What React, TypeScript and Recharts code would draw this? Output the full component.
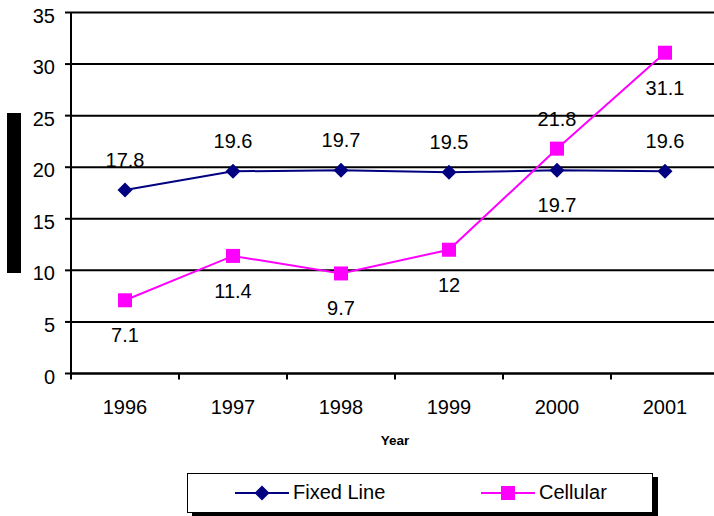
import { LineChart, Line, XAxis, YAxis, CartesianGrid, Legend, LabelList, Label } from "recharts";

const years = ["1996", "1997", "1998", "1999", "2000", "2001"];
const fixedLine = [17.8, 19.6, 19.7, 19.5, 19.7, 19.6];
const cellular = [7.1, 11.4, 9.7, 12, 21.8, 31.1];
const yTicks = [0, 5, 10, 15, 20, 25, 30, 35];

const data = years.map((year, i) => ({ year, fixed: fixedLine[i], cellular: cellular[i] }));

// which side of its marker each value label sits on
const fixedSides = ["top", "top", "top", "top", "bottom", "top"];
const cellularSides = ["bottom", "bottom", "bottom", "bottom", "top", "bottom"];

const seriesOrder = ["fixed", "cellular"];

const FONT = "Arial, 'Liberation Sans', sans-serif";
const FONT_SIZE = 20;
const NAVY = "#000080";
const MAGENTA = "#FF00FF";
const HALF_BAND = 54;

const Diamond = ({ cx, cy }: any) => (
  <polygon
    points={`${cx},${cy - 7.5} ${cx + 7.5},${cy} ${cx},${cy + 7.5} ${cx - 7.5},${cy}`}
    fill={NAVY}
  />
);

const Square = ({ cx, cy }: any) => <rect x={cx - 7} y={cy - 7} width={14} height={14} fill={MAGENTA} />;

const valueLabel = (sides: string[]) => (props: any) => {
  const { x, y, value, index } = props;
  const ty = sides[index] === "top" ? y - 23 : y + 42;
  return (
    <text x={x} y={ty} textAnchor="middle" fontSize={FONT_SIZE} fontFamily={FONT} fill="#000">
      {value}
    </text>
  );
};

const YearTick = ({ x, y, payload }: any) => (
  <g>
    <line x1={x - HALF_BAND} y1={y} x2={x - HALF_BAND} y2={y + 6} stroke="#000" strokeWidth={2} />
    <text x={x} y={y + 40} textAnchor="middle" fontSize={FONT_SIZE} fontFamily={FONT} fill="#000">
      {payload.value}
    </text>
  </g>
);

const ValueTick = ({ x, y, payload }: any) => (
  <text x={x} y={y + 10} textAnchor="end" fontSize={FONT_SIZE} fontFamily={FONT} fill="#000">
    {payload.value}
  </text>
);

const LegendBox = ({ payload }: any) => {
  const items = [...(payload || [])].sort(
    (a: any, b: any) => seriesOrder.indexOf(a.dataKey) - seriesOrder.indexOf(b.dataKey)
  );
  return (
    <div
      style={{
        boxSizing: "border-box",
        width: 466,
        height: 40,
        border: "1.5px solid #000",
        boxShadow: "5px 4px 0 #000",
        background: "#fff",
        position: "relative",
        fontFamily: FONT,
        fontSize: FONT_SIZE,
      }}
    >
      {items.map((entry: any, i: number) => {
        const isFixed = entry.dataKey === "fixed";
        return (
          <div
            key={entry.value}
            style={{ position: "absolute", left: i === 0 ? 47 : 293, top: 0, height: 37, display: "flex", alignItems: "center" }}
          >
            <svg width={54} height={16}>
              <line x1={0} y1={8} x2={54} y2={8} stroke={entry.color} strokeWidth={2} />
              {isFixed ? <Diamond cx={27} cy={8} /> : <Square cx={27} cy={8} />}
            </svg>
            <span style={{ marginLeft: 4, color: "#000" }}>{entry.value}</span>
          </div>
        );
      })}
    </div>
  );
};

export default function App() {
  return (
    <div style={{ position: "absolute", left: 0, top: 0, width: 714, height: 516, overflow: "hidden", background: "#fff" }}>
      <LineChart width={724} height={516} data={data} margin={{ top: 12.5, right: 5, bottom: 62.5, left: 0 }}>
        <CartesianGrid vertical={false} stroke="#000" strokeWidth={2} />
        <XAxis
          dataKey="year"
          padding={{ left: HALF_BAND, right: HALF_BAND }}
          height={80}
          axisLine={{ stroke: "#000", strokeWidth: 2 }}
          tickLine={false}
          tickSize={0}
          tickMargin={0}
          tick={<YearTick />}
          interval={0}
        >
          <Label
            content={({ viewBox }: any) => (
              <text
                x={viewBox.x + viewBox.width / 2}
                y={viewBox.y + 71}
                textAnchor="middle"
                fontSize={13.5}
                fontWeight="bold"
                fontFamily={FONT}
                fill="#000"
              >
                Year
              </text>
            )}
          />
        </XAxis>
        <YAxis
          width={71}
          domain={[0, 35]}
          ticks={yTicks}
          interval={0}
          tickSize={6}
          tickMargin={10}
          axisLine={{ stroke: "#000", strokeWidth: 2 }}
          tickLine={{ stroke: "#000", strokeWidth: 2 }}
          tick={<ValueTick />}
        >
          <Label
            content={({ viewBox }: any) => (
              <rect x={viewBox.x + 7} y={viewBox.y + viewBox.height / 2 - 80} width={14} height={160} fill="#000" />
            )}
          />
        </YAxis>
        <Legend
          layout="horizontal"
          verticalAlign="middle"
          align="center"
          wrapperStyle={{ left: 187, top: 473, width: 472, height: 45 }}
          content={<LegendBox />}
        />
        <Line
          dataKey="fixed"
          name="Fixed Line"
          stroke={NAVY}
          strokeWidth={2}
          isAnimationActive={false}
          dot={(p: any) => <Diamond key={`f${p.index}`} cx={p.cx} cy={p.cy} />}
          activeDot={false}
        >
          <LabelList dataKey="fixed" content={valueLabel(fixedSides)} />
        </Line>
        <Line
          dataKey="cellular"
          name="Cellular"
          stroke={MAGENTA}
          strokeWidth={2}
          isAnimationActive={false}
          dot={(p: any) => <Square key={`c${p.index}`} cx={p.cx} cy={p.cy} />}
          activeDot={false}
        >
          <LabelList dataKey="cellular" content={valueLabel(cellularSides)} />
        </Line>
      </LineChart>
    </div>
  );
}
